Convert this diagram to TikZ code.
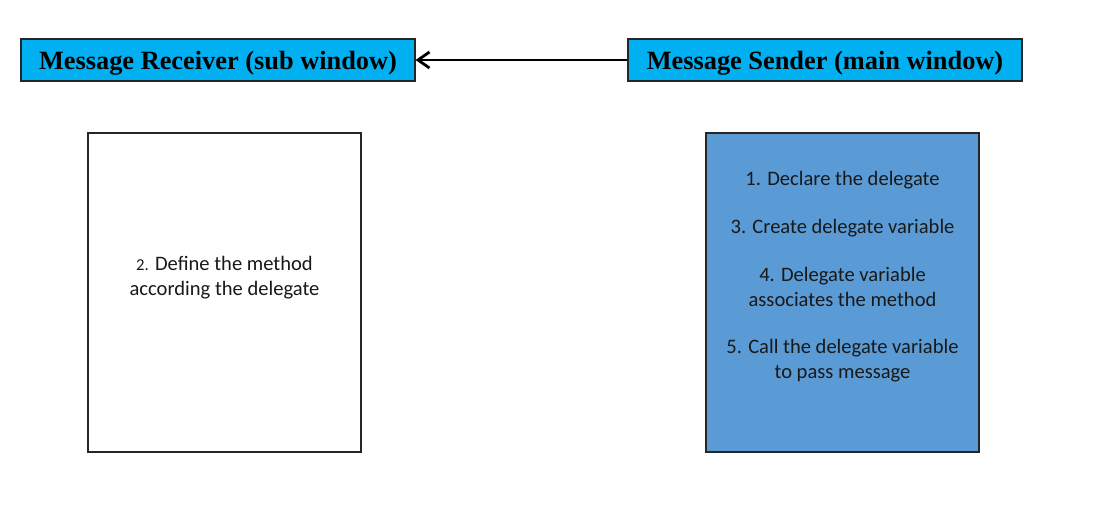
\documentclass[tikz,border=0pt]{standalone}
\usepackage{fontspec}
\setmainfont{Carlito}
\newfontfamily\headfont{Liberation Serif}
\usetikzlibrary{arrows.meta}
\usetikzlibrary{positioning}
\definecolor{headcyan}{HTML}{00B0F0}
\definecolor{stepblue}{HTML}{5B9BD5}
\tikzset{headbox/.style = {draw=black!85, fill=headcyan, line width=0.6pt, minimum width=394*0.02cm, minimum height=42*0.02cm, text depth=0pt, font=\headfont\bfseries\fontsize{15}{17}\selectfont},
         stepbox/.style = {draw=black!85, line width=0.6pt, minimum width=273*0.02cm, minimum height=319*0.02cm},
         steptext/.style = {align=center, text=black!90, font=\fontsize{11.7}{14.2}\selectfont}}

\begin{document}
\begin{tikzpicture}[x=0.02cm,y=-0.02cm]
            \useasboundingbox (0,0) rectangle (1116,515);
            \node [headbox] (receiver) at (218,60) {Message Receiver (sub window)};
            \node [headbox] (sender) at (825,60) {Message Sender (main window)};
            \draw [-{Straight Barb[length=2.3mm,width=3.2mm]}, line width=1.6pt] (sender.west) -- (receiver.east);
            \node [stepbox, fill=white] (define) at (224.5,292.5) {};
            \node [steptext] (method) at (224.5,278) {{\fontsize{9.5}{14.2}\selectfont 2.} Define the method\\according the delegate};
            \node [stepbox, fill=stepblue] (steps) at (842.5,292.5) {};
            \node [steptext, anchor=north] (list) at (842.5,165) {1. Declare the delegate\\[13pt] 3. Create delegate variable\\[13pt] 4. Delegate variable\\associates the method\\[13pt] 5. Call the delegate variable\\to pass message};
        \end{tikzpicture}
\end{document}
